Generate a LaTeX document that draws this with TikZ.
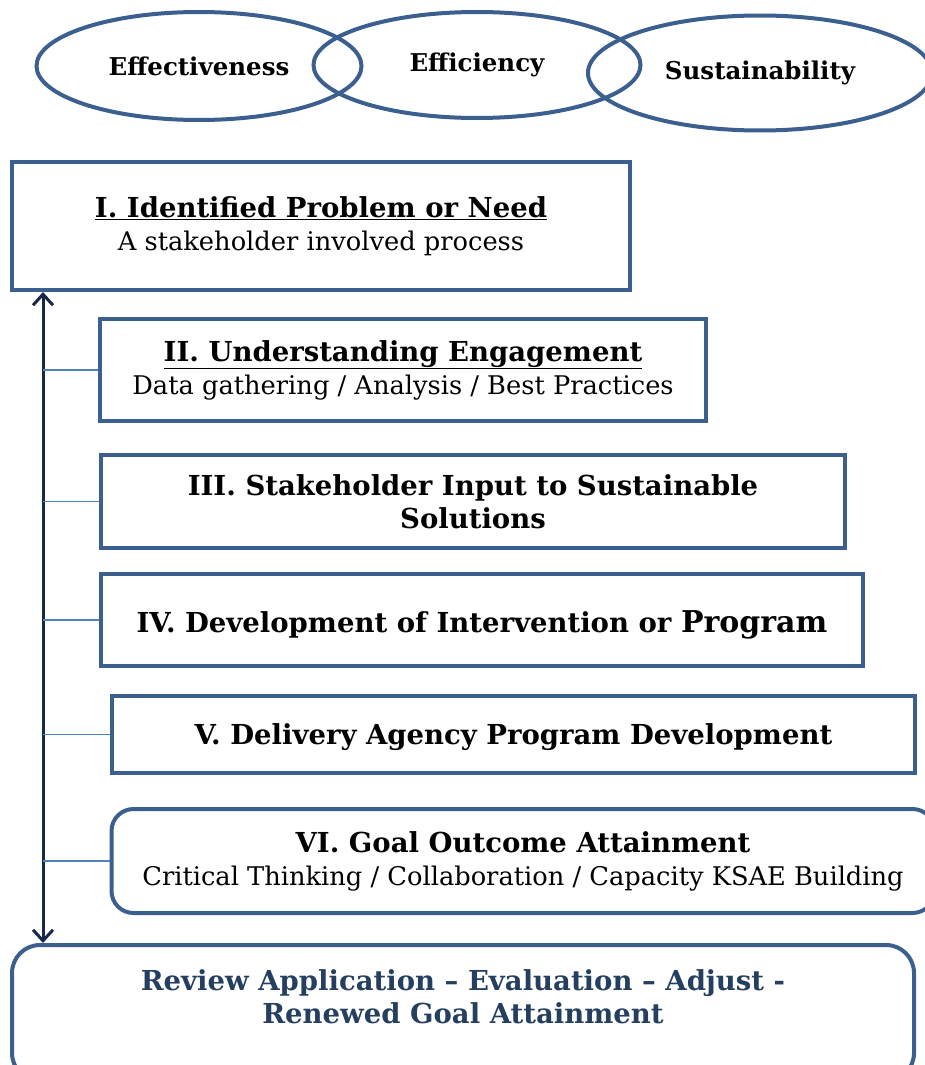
\documentclass[tikz,border=0pt]{standalone}
\usepackage{fontspec}
\setmainfont{DejaVu Serif}
\usetikzlibrary{shapes.geometric,arrows.meta}
\definecolor{frame}{HTML}{3B5F8E}
\definecolor{spinecol}{HTML}{17294A}
\definecolor{branchcol}{HTML}{4F81BD}
\definecolor{navytext}{HTML}{243F60}
\newcommand{\steptitle}{\fontsize{27.5}{33}\selectfont\bfseries}
\newcommand{\stepsub}{\fontsize{25.7}{33}\selectfont}

\begin{document}
\begin{tikzpicture}[x=1pt,y=-1pt,
    aim/.style={ellipse,draw=frame,line width=4pt,font=\fontsize{24.5}{28}\selectfont\bfseries},
    stepbox/.style={rectangle,draw=frame,line width=4pt,align=center,font=\fontsize{26}{33}\selectfont},
    roundbox/.style={stepbox,rounded corners=22pt},
    spine/.style={draw=spinecol,line width=3pt,{Straight Barb[length=11pt,width=20pt]}-{Straight Barb[length=11pt,width=20pt]}},
    branch/.style={draw=branchcol,line width=1.5pt}]
    \useasboundingbox (0,0) rectangle (925,1065);
    \node[aim,minimum width=325pt,minimum height=108pt] (effect) at (199,66) {Effectiveness};
    \node[aim,minimum width=327pt,minimum height=106pt] (effic) at (477,65) {Efficiency};
    \node[aim,minimum width=344pt,minimum height=115pt] (sustain) at (760,73) {Sustainability};
    \node[stepbox,minimum width=618pt,minimum height=128pt] (need) at (321,226)
        {\steptitle\underline{I. Identified Problem or Need}\\ \stepsub A stakeholder involved process};
    \node[stepbox,minimum width=606pt,minimum height=102pt] (engage) at (403,370)
        {\steptitle\underline{II. Understanding Engagement}\\ \stepsub Data gathering / Analysis / Best Practices};
    \node[stepbox,minimum width=744pt,minimum height=93pt] (input) at (473,501.5)
        {\steptitle III. Stakeholder Input to Sustainable\\ \steptitle Solutions};
    \node[stepbox,text height=31pt,minimum width=762pt,minimum height=92pt] (devel) at (482,620)
        {\steptitle IV. Development of Intervention or {\fontsize{30}{33}\selectfont Program}};
    \node[stepbox,text height=27pt,minimum width=803pt,minimum height=77pt] (deliver) at (513.5,734.5)
        {\steptitle V. Delivery Agency Program Development};
    \node[roundbox,minimum width=823pt,minimum height=104pt] (goal) at (523,861)
        {\steptitle VI. Goal Outcome Attainment\\ \stepsub Critical Thinking / Collaboration / Capacity KSAE Building};
    \node[roundbox,rounded corners=28pt,minimum width=902pt,minimum height=136pt] (review) at (463,1013) {};
    \node[align=center,text=navytext,font=\steptitle] (reviewtext) at (463,997)
        {Review Application -- Evaluation -- Adjust -\\ Renewed Goal Attainment};
    % vertical feedback arrow
    \coordinate (up) at ([xshift=33pt]need.south west);
    \coordinate (down) at (up |- review.north);
    \path[spine] (up) -- (down);
    \foreach \s in {engage,input,devel,deliver,goal}
        \path[branch] (\s.west -| up) -- (\s.west);
\end{tikzpicture}
\end{document}
